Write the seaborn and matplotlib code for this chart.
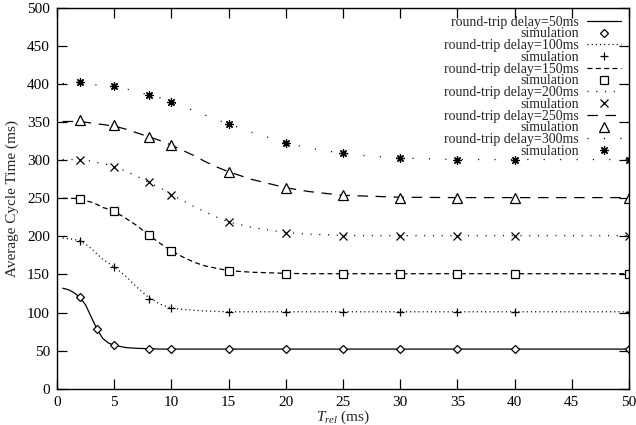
import matplotlib
matplotlib.use("Agg")
import matplotlib.pyplot as plt
import seaborn as sns
import pandas as pd

# ---- data ----
x_curve = [0.5, 1, 1.5, 2, 2.5, 3, 3.5, 4, 4.5, 5, 6, 7, 8, 9, 10, 11, 12, 13, 14,
           15, 17, 20, 22, 25, 27, 30, 35, 40, 45, 50]
curve_50 = [132, 130, 126, 120, 110, 94, 78, 66, 60, 57, 54, 53, 52.5, 52, 52, 52, 52, 52, 52,
            52, 52, 52, 52, 52, 52, 52, 52, 52, 52, 52]
curve_100 = [198, 197, 196, 194, 190, 184, 177, 170, 165, 160, 148, 133, 120, 111, 106, 104, 103, 102, 101.5,
             101, 101, 101, 101, 101, 101, 101, 101, 101, 101, 101]
curve_150 = [250, 250, 250, 249, 247, 245, 242, 238, 236, 233, 224, 214, 202, 191, 181, 173, 166, 161, 158,
             155, 153, 151.5, 151, 151, 151, 151, 151, 151, 151, 151]
curve_200 = [301, 301, 301, 301, 300, 299, 297, 296, 294, 291, 286, 279, 271, 264, 255, 247, 239, 232, 225,
             219, 212, 205, 203, 201.5, 201, 201, 201, 201, 201, 201]
curve_250 = [351, 351, 351, 351, 350, 349, 348, 347, 346, 345, 341, 336, 331, 326, 320, 313, 306, 298, 291,
             285, 275, 264, 259, 254, 253, 251.5, 251, 251, 251, 251]
curve_300 = [401, 401, 401, 401, 400, 400, 399, 399, 398, 397, 394, 390, 386, 382, 377, 371, 365, 359, 353,
             348, 337, 323, 316, 309, 306, 303, 301, 301, 301, 301]

x_sim_50 = [2, 3.5, 5, 8, 10, 15, 20, 25, 30, 35, 40, 50]
sim_50 = [121, 78, 57, 52, 52, 52, 52, 52, 52, 52, 52, 52]
x_sim = [2, 5, 8, 10, 15, 20, 25, 30, 35, 40, 50]
sim_100 = [194, 160, 118, 106, 101, 101, 101, 101, 101, 101, 101]
sim_150 = [249, 233, 202, 181, 155, 151, 151, 151, 151, 151, 151]
sim_200 = [301, 291, 271, 255, 219, 205, 201, 201, 201, 201, 201]
sim_250 = [353, 346, 331, 320, 285, 264, 254, 251, 251, 251, 251]
sim_300 = [403, 397, 386, 377, 348, 323, 309, 303, 301, 301, 301]

delays = [50, 100, 150, 200, 250, 300]
x_ticks = [0, 5, 10, 15, 20, 25, 30, 35, 40, 45, 50]
y_ticks = [0, 50, 100, 150, 200, 250, 300, 350, 400, 450, 500]

sns.set_style("ticks")
plt.rcParams['font.family'] = ['Liberation Serif', 'DejaVu Serif']
plt.rcParams['mathtext.fontset'] = 'custom'
plt.rcParams['mathtext.it'] = 'Liberation Serif:italic'
plt.rcParams['mathtext.rm'] = 'Liberation Serif'
plt.rcParams['lines.scale_dashes'] = False

fig = plt.figure(figsize=(6.36, 4.25), dpi=100)
ax = fig.add_axes([0.0896, 0.0855, 0.8994, 0.8955])

curves = [curve_50, curve_100, curve_150, curve_200, curve_250, curve_300]
sims = [sim_50, sim_100, sim_150, sim_200, sim_250, sim_300]
sim_xs = [x_sim_50, x_sim, x_sim, x_sim, x_sim, x_sim]
styles = ['-', (0, (0.8, 2.2)), (0, (3.6, 2.4)), (0, (0.8, 5.5)), (0, (7.5, 5.5)), (0, (0.8, 11))]
markers = ['D', '+', 's', 'x', '^', (8, 2, 0)]
msizes = [4.2, 6, 5.5, 5.5, 6.5, 6]

for d, cy, sy, sx, ls, mk, ms in zip(delays, curves, sims, sim_xs, styles, markers, msizes):
    dfc = pd.DataFrame({'x': x_curve, 'y': cy})
    sns.lineplot(data=dfc, x='x', y='y', ax=ax, color='black', linewidth=0.9,
                 linestyle=ls, label=f'round-trip delay={d}ms', sort=False)
    dfs = pd.DataFrame({'x': sx, 'y': sy})
    sns.lineplot(data=dfs, x='x', y='y', ax=ax, color='black', linestyle='none',
                 marker=mk, markersize=ms, markerfacecolor='white', markeredgecolor='black',
                 markeredgewidth=0.9, label='simulation', sort=False)
    if mk == 's':
        sns.lineplot(data=dfs, x='x', y='y', ax=ax, color='black', linestyle='none',
                     marker='.', markersize=1.5, legend=False, sort=False)

ax.set_xlim(0, 50)
ax.set_ylim(0, 500)
ax.set_xticks(x_ticks)
ax.set_yticks(y_ticks)
ax.tick_params(direction='in', length=7, width=0.9, top=True, right=True,
               labelsize=11, colors='black', pad=5)
for s in ax.spines.values():
    s.set_linewidth(1.0)
    s.set_color('black')
ax.set_xlabel(r'$T_{rel}$ (ms)', fontsize=11, labelpad=0)
ax.set_ylabel('Average Cycle Time (ms)', fontsize=11, labelpad=6)

h, l = ax.get_legend_handles_labels()
leg = ax.legend(h, l, loc='upper right', bbox_to_anchor=(1.0, 1.0), frameon=False,
                markerfirst=False, fontsize=10, labelspacing=-0.09, handlelength=2.5,
                handletextpad=0.55, borderpad=0.2, borderaxespad=0.35)

fig.savefig('out.png', dpi=100)
